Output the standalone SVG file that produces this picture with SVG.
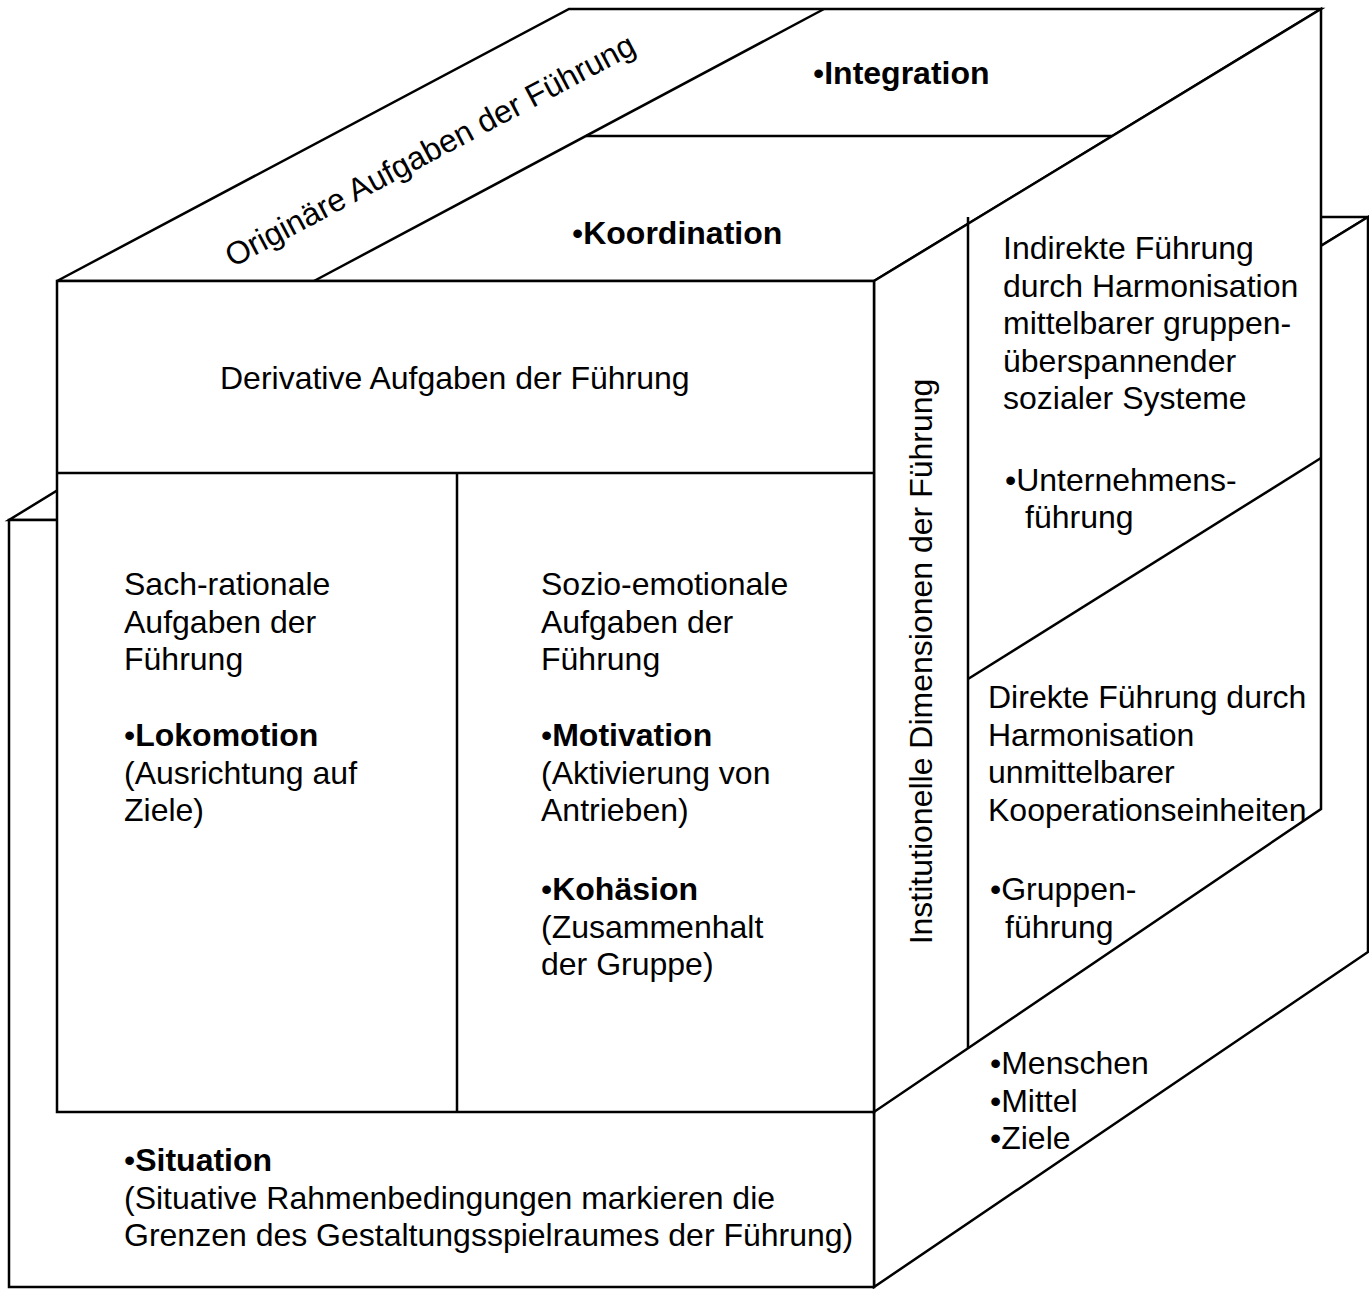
<svg xmlns="http://www.w3.org/2000/svg" width="1369" height="1289" viewBox="0 0 1369 1289">
<style>
.f{fill:#fff;stroke:#000;stroke-width:2.5;stroke-linejoin:miter}
.l{fill:none;stroke:#000;stroke-width:2.5}
text{font-family:"Liberation Sans",Arial,Helvetica,sans-serif;font-size:32px;fill:#000}
.b{font-weight:bold}
.n{font-weight:normal}
</style>
<rect width="1369" height="1289" fill="#fff"/>
<g id="outer-box">
<polygon class="f" points="9,520 874,520 1368,217 503,217"/>
<polygon class="f" points="874,520 1368,217 1368,952 874,1287"/>
<polygon class="f" points="9,520 874,520 874,1287 9,1287"/>
</g>
<g id="inner-box">
<polygon class="f" points="57,281 569,9 1321,9 874,281"/>
<polygon class="f" points="874,281 1321,9 1321,809 874,1112"/>
<polygon class="f" points="57,281 874,281 874,1112 57,1112"/>
</g>
<g id="dividers">
<line class="l" x1="314" y1="281" x2="824" y2="9"/>
<line class="l" x1="586" y1="136" x2="1112" y2="136"/>
<line class="l" x1="57" y1="473" x2="874" y2="473"/>
<line class="l" x1="457" y1="473" x2="457" y2="1112"/>
<line class="l" x1="968" y1="217" x2="968" y2="1048"/>
<line class="l" x1="968" y1="679" x2="1321" y2="458"/>
</g>
<g id="originaere">
<text transform="translate(435,160) rotate(-28)" text-anchor="middle">Originäre Aufgaben der Führung</text>
</g>
<g id="integration">
<text x="813" y="84"><tspan class="n">•</tspan><tspan class="b">Integration</tspan></text>
</g>
<g id="koordination">
<text x="572" y="244"><tspan class="n">•</tspan><tspan class="b">Koordination</tspan></text>
</g>
<g id="derivative">
<text x="220" y="389">Derivative Aufgaben der Führung</text>
</g>
<g id="sach-rational">
<text x="124" y="595">Sach-rationale</text>
<text x="124" y="632.5">Aufgaben der</text>
<text x="124" y="670">Führung</text>
<text x="124" y="746"><tspan class="n">•</tspan><tspan class="b">Lokomotion</tspan></text>
<text x="124" y="784">(Ausrichtung auf</text>
<text x="124" y="821">Ziele)</text>
</g>
<g id="sozio-emotional">
<text x="541" y="595">Sozio-emotionale</text>
<text x="541" y="632.5">Aufgaben der</text>
<text x="541" y="670">Führung</text>
<text x="541" y="746"><tspan class="n">•</tspan><tspan class="b">Motivation</tspan></text>
<text x="541" y="784">(Aktivierung von</text>
<text x="541" y="821">Antrieben)</text>
<text x="541" y="900"><tspan class="n">•</tspan><tspan class="b">Kohäsion</tspan></text>
<text x="541" y="938">(Zusammenhalt</text>
<text x="541" y="975">der Gruppe)</text>
</g>
<g id="institutionelle">
<text transform="translate(932,661.5) rotate(-90)" text-anchor="middle">Institutionelle Dimensionen der Führung</text>
</g>
<g id="indirekte">
<text x="1003" y="259">Indirekte Führung</text>
<text x="1003" y="296.5">durch Harmonisation</text>
<text x="1003" y="334">mittelbarer gruppen-</text>
<text x="1003" y="371.5">überspannender</text>
<text x="1003" y="409">sozialer Systeme</text>
<text x="1005" y="491">•Unternehmens-</text>
<text x="1025" y="528">führung</text>
</g>
<g id="direkte">
<text x="988" y="708">Direkte Führung durch</text>
<text x="988" y="745.5">Harmonisation</text>
<text x="988" y="783">unmittelbarer</text>
<text x="988" y="820.5">Kooperationseinheiten</text>
<text x="990" y="900">•Gruppen-</text>
<text x="1005" y="937.5">führung</text>
</g>
<g id="ressourcen">
<text x="990" y="1074">•Menschen</text>
<text x="990" y="1111.5">•Mittel</text>
<text x="990" y="1149">•Ziele</text>
</g>
<g id="situation">
<text x="124" y="1171"><tspan class="n">•</tspan><tspan class="b">Situation</tspan></text>
<text x="124" y="1208.5">(Situative Rahmenbedingungen markieren die</text>
<text x="124" y="1246">Grenzen des Gestaltungsspielraumes der Führung)</text>
</g>
</svg>
